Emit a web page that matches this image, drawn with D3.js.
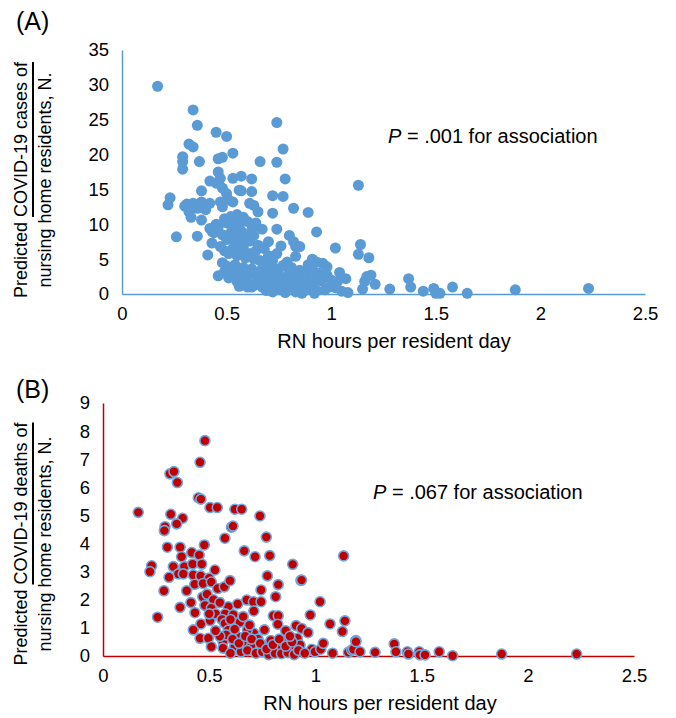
<!DOCTYPE html>
<html>
<head>
<meta charset="utf-8">
<script src="https://cdn.jsdelivr.net/npm/d3@7"></script>
<style>
  body { margin: 0; background: #fff; }
  text { font-family: "Liberation Sans", Arial, Helvetica, sans-serif; fill: #000; }
</style>
</head>
<body>
<svg id="chart" width="676" height="718"></svg>
<script>
// x tick labels (shared)
const xTicks = [0, 0.5, 1, 1.5, 2, 2.5];
const yTicksA = [0, 5, 10, 15, 20, 25, 30, 35];
const yTicksB = [0, 1, 2, 3, 4, 5, 6, 7, 8, 9];

// (A) predicted cases vs RN hours per resident day
const casesData = [
  [0.17,29.8],[0.34,26.4],[0.36,24.2],[0.45,23.2],[0.50,22.6],[0.74,24.6],[0.77,20.8],
  [0.32,21.5],[0.34,21.1],[0.29,19.7],[0.29,19.0],[0.29,17.9],[0.37,19.0],[0.46,19.4],[0.48,19.6],[0.53,20.2],[0.66,19.0],[0.74,18.9],
  [0.46,17.5],[0.42,16.2],[0.45,15.9],[0.47,16.6],[0.53,16.6],[0.57,16.9],[0.62,16.5],[0.78,16.5],
  [0.38,14.8],[0.48,15.2],[0.50,14.4],[0.56,14.9],[0.57,14.8],[0.62,14.7],[0.72,14.1],[0.77,14.0],[0.51,13.5],[0.53,13.2],
  [0.23,13.8],[0.22,12.8],[0.31,12.9],[0.34,13.0],[0.38,13.2],[0.42,13.0],[0.36,12.3],[0.40,12.1],[0.47,13.2],[0.48,12.5],
  [0.61,13.0],[0.63,12.7],[0.65,11.8],[0.82,12.3],[0.89,11.7],[0.72,11.6],
  [0.33,11.0],[0.38,10.6],[0.32,11.8],[0.35,12.6],[0.30,12.6],
  [0.26,8.2],[0.36,8.3],[0.42,9.4],[0.45,10.0],[0.49,10.8],[0.52,11.1],[0.50,10.2],[0.54,10.5],[0.60,10.4],[0.53,9.6],[0.56,9.8],
  [0.67,9.3],[0.74,9.3],[0.93,8.9],[0.80,8.4],[0.82,7.5],[0.83,6.8],[0.85,6.8],[0.76,6.9],[0.70,7.5],[0.83,5.4],
  [0.43,7.3],[0.41,5.6],[1.13,15.6],[1.02,6.6],[1.14,7.1],[1.13,5.7],[1.18,5.2],
  [0.91,5.0],[0.93,4.6],[0.96,4.4],[0.98,3.9],[0.98,2.7],[1.04,3.1],[1.07,2.2],[1.03,1.8],[0.99,1.0],[1.08,0.2],
  [1.17,2.5],[1.19,2.7],[1.16,1.8],[1.21,1.4],[1.15,0.7],[1.28,0.7],[1.37,2.2],[1.38,1.0],[1.44,0.4],[1.49,0.8],
  [1.50,0.1],[1.52,0.1],[1.58,1.0],[1.65,0.1],[1.88,0.6],[2.23,0.8],
  [0.91,1.6],[0.90,1.0],[0.92,0.1],[0.77,4.1],[0.81,3.8],[0.85,3.4],[0.88,2.7],[0.92,2.2],[0.91,1.3],
  [0.46,2.6],[0.51,2.3],[0.56,1.1],[0.62,1.0],
  [0.48,8.5],[0.50,7.8],[0.52,8.8],[0.55,8.0],[0.57,9.0],[0.59,8.2],[0.61,7.6],[0.63,8.4],[0.65,7.0],[0.68,6.5],
  [0.47,6.8],[0.49,6.2],[0.51,5.8],[0.53,6.5],[0.55,5.5],[0.57,6.0],[0.59,5.2],[0.61,5.8],[0.63,5.0],[0.66,4.8],
  [0.48,4.5],[0.50,4.0],[0.52,3.5],[0.54,4.2],[0.56,3.2],[0.58,3.8],[0.60,3.0],[0.62,3.6],[0.64,2.8],[0.66,3.3],
  [0.68,2.5],[0.70,3.0],[0.72,2.2],[0.74,2.7],[0.76,2.0],[0.78,2.4],[0.80,1.8],[0.82,2.2],[0.84,1.5],[0.86,2.0],
  [0.55,1.8],[0.58,1.5],[0.60,2.0],[0.63,1.2],[0.65,1.8],[0.67,1.0],[0.69,1.5],[0.71,0.8],[0.73,1.3],[0.75,0.6],
  [0.77,1.0],[0.79,0.5],[0.81,0.9],[0.83,0.3],[0.85,0.8],[0.87,0.4],[0.89,0.9],[0.72,0.3],[0.78,0.2],[0.86,0.1],
  [0.70,5.5],[0.72,4.8],[0.74,5.8],[0.68,4.2],[0.75,3.6],[0.79,4.6],[0.73,3.5],[0.71,4.0],[0.64,6.2],[0.66,6.8],
  [0.56,7.2],[0.58,6.8],[0.54,7.4],[0.46,9.6],[0.44,8.8],[0.43,9.0],[0.62,9.2],[0.64,10.2],[0.58,11.0],[0.55,11.4],
  [0.60,1.0],[0.57,2.5],[0.53,2.8],[0.49,3.2],[0.67,2.2],[0.69,0.5],[0.76,1.6],[0.80,3.1],[0.83,2.6],[0.87,3.0],
  [0.89,4.2],[0.91,3.6],[0.94,3.0],[0.95,1.9],[0.97,0.6],[1.00,2.0],[1.02,0.9],[1.05,0.4],[0.93,0.5],[0.88,1.6]
];

// (B) predicted deaths vs RN hours per resident day
const deathsData = [
  [0.48,7.66],[0.457,6.89],[0.315,6.48],[0.334,6.56],[0.35,6.17],[0.166,5.11],[0.449,5.63],[0.461,5.58],[0.504,5.28],[0.538,5.28],
  [0.319,5.04],[0.375,4.9],[0.347,4.7],[0.292,4.6],[0.289,4.46],[0.574,4.19],
  [0.621,5.22],[0.653,5.22],[0.739,4.98],[0.605,4.58],[0.612,4.62],[0.769,4.23],
  [0.303,3.87],[0.363,3.87],[0.477,3.95],[0.37,3.53],[0.418,3.68],[0.453,3.59],[0.229,3.21],[0.221,3.0],
  [0.331,3.18],[0.383,3.18],[0.422,3.27],[0.465,3.27],[0.527,3.06],[0.355,2.92],[0.378,2.92],[0.425,2.88],[0.46,2.85],[0.5,2.77],
  [0.311,2.8],[0.287,2.32],[0.394,2.32],[0.432,2.55],[0.471,2.58],[0.51,2.63],[0.54,2.4],[0.571,2.46],
  [0.665,3.74],[0.716,3.53],[0.785,3.57],[0.893,3.26],[1.133,3.56],[0.774,2.85],[0.825,2.54],[0.932,2.69],[0.598,2.68],[0.744,2.35],[0.813,2.11],
  [0.677,1.99],[0.708,1.93],[0.744,1.93],[0.634,1.85],[1.022,1.93],[0.59,1.75],[0.575,1.5],[0.613,1.47],[0.644,1.2],
  [0.363,1.73],[0.414,1.9],[0.433,1.54],[0.257,1.38],[0.461,1.14],[0.504,1.26],[0.425,0.93],
  [0.47,2.1],[0.49,2.2],[0.52,2.0],[0.48,1.8],[0.51,1.7],[0.55,1.9],[0.53,1.5],[0.56,1.3],[0.5,1.5],
  [0.457,0.63],[0.496,0.63],[0.51,0.33],[0.565,0.51],[0.565,0.28],[0.574,1.16],[0.59,0.92],
  [0.976,1.46],[0.802,1.43],[0.825,1.43],[0.823,1.13],[0.909,1.08],[0.935,0.98],[0.965,0.83],[0.915,0.63],[1.069,1.14],[1.139,1.25],[1.127,0.87],[1.19,0.55],
  [0.76,0.93],[0.71,0.81],[0.68,0.93],[0.63,0.7],[0.66,0.5],[0.7,0.4],[0.73,0.6],[0.76,0.35],[0.79,0.55],[0.82,0.3],[0.85,0.5],[0.88,0.25],
  [0.62,0.35],[0.6,0.1],[0.65,0.15],[0.68,0.2],[0.72,0.1],[0.75,0.15],[0.78,0.05],[0.81,0.1],[0.84,0.08],[0.87,0.12],[0.9,0.05],
  [0.935,2.7],[0.928,0.39],[0.983,0.24],[0.998,0.15],[1.025,0.24],[1.037,0.45],[1.081,0.1],[1.155,0.13],[1.171,0.21],[1.179,0.24],
  [1.191,0.51],[1.21,0.15],[1.281,0.13],[1.371,0.43],[1.379,0.15],[1.433,0.15],[1.438,0.07],[1.489,0.15],[1.492,0.04],[1.516,0.04],
  [1.583,0.15],[1.646,0.01],[1.877,0.07],[2.23,0.07],
  [0.58,0.75],[0.61,0.6],[0.64,0.45],[0.67,0.7],[0.7,0.6],[0.74,0.45],[0.77,0.25],[0.8,0.4],[0.83,0.6],[0.86,0.35],[0.89,0.5],
  [0.92,0.2],[0.95,0.1],[0.62,0.95],[0.69,1.1],[0.55,0.7],[0.53,0.9],[0.6,1.3],[0.66,1.4],[0.71,1.6],[0.86,0.9],[0.88,0.7]
];

const svg = d3.select("#chart");

function drawPanel(opt) {
  const x = d3.scaleLinear().domain([0, 2.5]).range([opt.left, opt.right]);
  const y = d3.scaleLinear().domain([0, opt.yMax]).range([opt.bottom, opt.top]);
  const g = svg.append("g");

  // axes: no tick marks, just the line and labels
  const xAxis = g.append("g")
    .attr("transform", `translate(0,${opt.bottom})`)
    .call(d3.axisBottom(x).tickValues(xTicks).tickFormat(d3.format("")).tickSize(0).tickPadding(13));
  const yAxis = g.append("g")
    .attr("transform", `translate(${opt.left},0)`)
    .call(d3.axisLeft(y).tickValues(opt.yTicks).tickFormat(d3.format("")).tickSize(0).tickPadding(13));
  [xAxis, yAxis].forEach(a => {
    a.select(".domain").attr("stroke", opt.axisColor).attr("stroke-width", 1.5);
    a.selectAll("text").attr("font-size", 18.5).attr("font-family", "Liberation Sans, Arial, sans-serif").attr("fill", "#000");
  });

  // points
  g.append("g").selectAll("circle")
    .data(opt.data)
    .join("circle")
    .attr("cx", d => x(d[0]))
    .attr("cy", d => y(d[1]))
    .attr("r", opt.r)
    .attr("fill", opt.fill)
    .attr("stroke", opt.stroke)
    .attr("stroke-width", opt.strokeWidth);

  // panel letter
  g.append("text").attr("x", 16).attr("y", opt.letterY).attr("font-size", 25).text(opt.letter);

  // P value annotation
  const p = g.append("text").attr("x", opt.pX).attr("y", opt.pY).attr("font-size", 20);
  p.append("tspan").attr("font-style", "italic").text("P");
  p.append("tspan").text(" = " + opt.pValue + " for association");

  // x axis title
  g.append("text")
    .attr("x", opt.xTitleX).attr("y", opt.xTitleY)
    .attr("text-anchor", "middle").attr("font-size", 20)
    .text("RN hours per resident day");

  // y axis title, two rotated lines, "COVID-19 ... of" underlined
  const cy = opt.titleCY;
  const first = "Predicted ";
  const under = "COVID-19 " + opt.measure + " of";
  const t1 = g.append("text")
    .attr("transform", `translate(27,${cy}) rotate(-90)`)
    .attr("text-anchor", "middle").attr("font-size", 18)
    .text(first + under);
  g.append("text")
    .attr("transform", `translate(51,${cy}) rotate(-90)`)
    .attr("text-anchor", "middle").attr("font-size", 18)
    .text("nursing home residents, N.");

  const node = t1.node();
  const total = node.getComputedTextLength();
  const startLen = node.getSubStringLength(0, first.length);
  const start = -total / 2 + startLen;
  const end = total / 2;
  // underline runs along the rotated text, so it's vertical on screen
  g.append("line")
    .attr("x1", 33).attr("x2", 33)
    .attr("y1", cy - start).attr("y2", cy - end)
    .attr("stroke", "#000").attr("stroke-width", 2);
}

drawPanel({
  data: casesData, yMax: 35, yTicks: yTicksA,
  left: 122, right: 645, top: 50, bottom: 294,
  axisColor: "#5b9bd5", fill: "#5b9bd5", stroke: "none", strokeWidth: 0, r: 5.5,
  letter: "(A)", letterY: 30, pX: 388, pY: 143, pValue: ".001",
  xTitleX: 394, xTitleY: 348, titleCY: 180, measure: "cases"
});

drawPanel({
  data: deathsData, yMax: 9, yTicks: yTicksB,
  left: 103, right: 634, top: 403, bottom: 656,
  axisColor: "#c00000", fill: "#c00000", stroke: "#6fa8dc", strokeWidth: 1.6, r: 5,
  letter: "(B)", letterY: 398, pX: 373, pY: 499, pValue: ".067",
  xTitleX: 380, xTitleY: 710, titleCY: 544, measure: "deaths"
});
</script>
</body>
</html>
